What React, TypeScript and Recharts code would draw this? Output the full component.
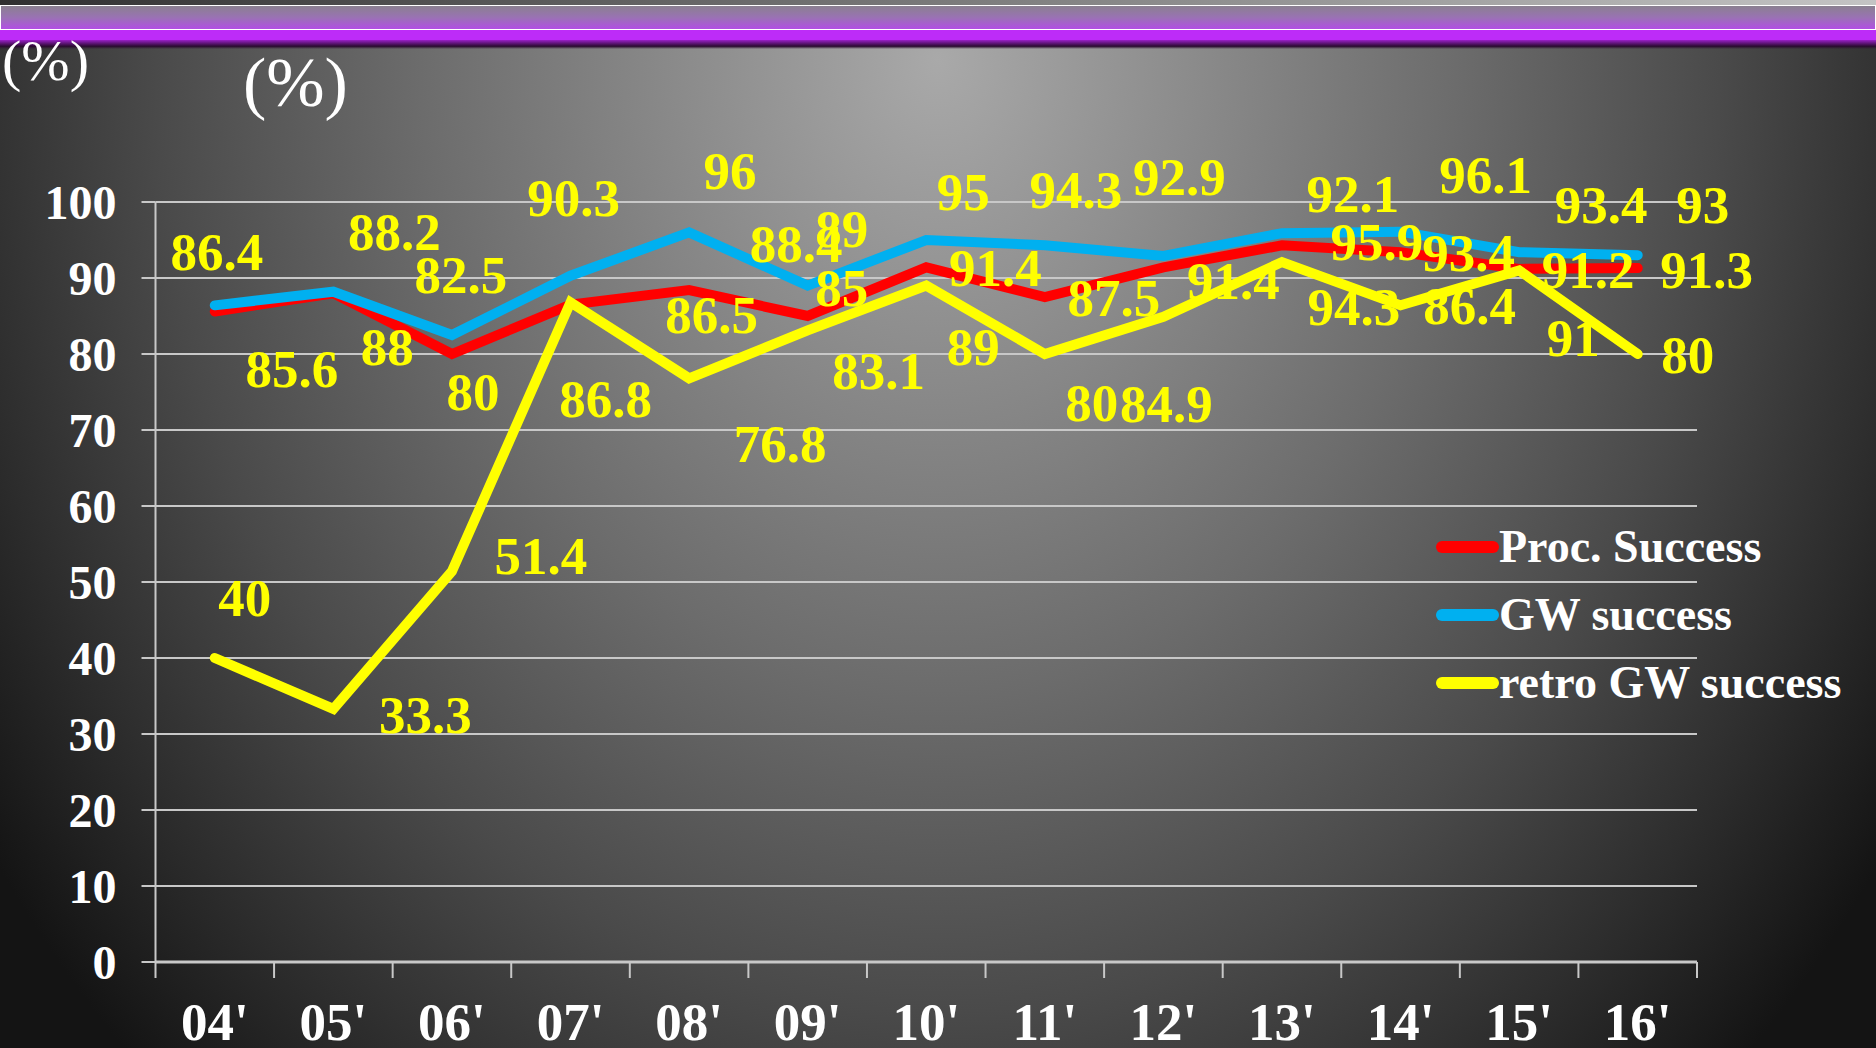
import { LineChart, Line, XAxis, YAxis, CartesianGrid, LabelList } from 'recharts'

const years = ["04'", "05'", "06'", "07'", "08'", "09'", "10'", "11'", "12'", "13'", "14'", "15'", "16'"]
const procSuccess = [85.6, 88, 80, 86.5, 88.4, 85, 91.4, 87.5, 91.4, 94.3, 93.4, 91.2, 91.3]
const gwSuccess = [86.4, 88.2, 82.5, 90.3, 96, 89, 95, 94.3, 92.9, 95.9, 96.1, 93.4, 93]
const retroGwSuccess = [40, 33.3, 51.4, 86.8, 76.8, 83.1, 89, 80, 84.9, 92.1, 86.4, 91, 80]
const yTicks = [0, 10, 20, 30, 40, 50, 60, 70, 80, 90, 100]

// the slide's data labels were dragged around by hand, these are the nudges (px)
const procLabelShift: [number, number][] = [
    [77, 58], [54, 54], [21, 38], [141, 10], [107, -46], [34, -28], [69, 1],
    [69, 1], [70, 14], [72, 62], [68, 1], [69, 1], [69, 2],
]
const gwLabelShift: [number, number][] = [
    [2, -53], [61, -60], [9, -60], [3, -78], [41, -61], [34, -57], [37, -48],
    [31, -55], [16, -79], [95, 9], [85, -57], [82, -47], [65, -50],
]
const retroLabelShift: [number, number][] = [
    [30, -60], [92, 6], [89, -15], [35, 97], [91, 66], [71, 41], [47, 61],
    [47, 49], [3, 87], [71, -68], [69, 1], [54, 68], [50, 1],
]

const series = [
    { key: 'proc', name: 'Proc. Success', color: '#FF0000', shift: procLabelShift },
    { key: 'gw', name: 'GW success', color: '#00B0F0', shift: gwLabelShift },
    { key: 'retro', name: 'retro GW success', color: '#FFFF00', shift: retroLabelShift },
]

const data = years.map((year, i) => ({
    i,
    year,
    proc: procSuccess[i],
    gw: gwSuccess[i],
    retro: retroGwSuccess[i],
}))

const W = 1876
const H = 1048
const MARGIN = { top: 202, right: 179, bottom: 26, left: 0 }
const Y_AXIS_W = 155.5
const X_AXIS_H = 60
const PLOT_LEFT = MARGIN.left + Y_AXIS_W
const PLOT_W = W - PLOT_LEFT - MARGIN.right
const AXIS_Y = H - MARGIN.bottom - X_AXIS_H
const BAND = PLOT_W / years.length

const SERIF = "'Liberation Serif', 'Times New Roman', serif"
const GRID = '#c8c8c8'

const makeLabel = (shift: [number, number][]) => (props: any) => {
    const x = props.x ?? props.viewBox?.x
    const y = props.y ?? props.viewBox?.y
    if (x == null || y == null) return null
    const idx = props.index ?? Math.round((x - PLOT_LEFT) / BAND - 0.5)
    const [dx, dy] = shift[idx] ?? [0, 0]
    return (
        <text
            x={x + dx}
            y={y + dy}
            fill="#FFFF00"
            fontSize={53}
            fontWeight="bold"
            fontFamily={SERIF}
            textAnchor="middle"
            dominantBaseline="central"
        >
            {props.value}
        </text>
    )
}

// category labels sit in the middle of each band, tick marks on the band edges
function YearTick(props: any) {
    const { x, payload, index } = props
    const left = x - BAND / 2
    const right = x + BAND / 2
    return (
        <g>
            <line x1={left} x2={left} y1={AXIS_Y} y2={AXIS_Y + 16} stroke={GRID} strokeWidth={2} />
            {index === years.length - 1 && (
                <line x1={right} x2={right} y1={AXIS_Y} y2={AXIS_Y + 16} stroke={GRID} strokeWidth={2} />
            )}
            <text x={x} y={AXIS_Y + 78} fill="#FFFFFF" fontSize={53} fontWeight="bold" fontFamily={SERIF} textAnchor="middle">
                {years[payload.value]}
            </text>
        </g>
    )
}

function LegendBox() {
    return (
        <div style={{ position: 'absolute', left: 1436, top: 513, fontFamily: SERIF }}>
            {series.map((s) => (
                <div key={s.key} style={{ display: 'flex', alignItems: 'center', height: 68 }}>
                    <div style={{ width: 63, height: 12, borderRadius: 6, background: s.color }} />
                    <span style={{ color: '#FFFFFF', fontSize: 46, fontWeight: 'bold', lineHeight: '68px', whiteSpace: 'nowrap' }}>
                        {s.name}
                    </span>
                </div>
            ))}
        </div>
    )
}

export default function App() {
    return (
        <div
            style={{
                position: 'absolute',
                left: 0,
                top: 0,
                width: W,
                height: H,
                overflow: 'hidden',
                background:
                    'radial-gradient(ellipse 1150px 1400px at 50% 60px, #a9a9a9 0%, #8e8e8e 20%, #6c6c6c 45%, #4a4a4a 68%, #2c2c2c 86%, #141414 100%)',
            }}
        >
            {/* slide header band */}
            <div style={{ position: 'absolute', left: 0, top: 0, width: W, height: 5, background: 'linear-gradient(90deg, #303030, #c4c4c4)' }} />
            <div
                style={{
                    position: 'absolute', left: 0, top: 5, width: W - 2, height: 23,
                    border: '1px solid #ffffff',
                    background: 'linear-gradient(180deg, #8a8090 0%, #9a72b4 50%, #b24fe4 100%)',
                }}
            />
            <div style={{ position: 'absolute', left: 0, top: 30, width: W, height: 10, background: '#bd2cf8' }} />
            <div style={{ position: 'absolute', left: 0, top: 40, width: W, height: 9, background: 'linear-gradient(180deg, #9a20c8 0%, #2a0a30 70%, rgba(40,20,40,0) 100%)' }} />

            <svg width={W} height={H} style={{ position: 'absolute', left: 0, top: 0 }}>
                <text x={2} y={80} fill="#FFFFFF" fontSize={58} fontFamily={SERIF}>(%)</text>
                <text x={243} y={106} fill="#FFFFFF" fontSize={70} fontFamily={SERIF}>(%)</text>
            </svg>

            <div style={{ position: 'absolute', left: 0, top: 0 }}>
                <LineChart width={W} height={H} data={data} margin={MARGIN}>
                    <CartesianGrid horizontal vertical={false} stroke={GRID} strokeWidth={2} />
                    <XAxis
                        dataKey="i"
                        type="number"
                        domain={[-0.5, years.length - 0.5]}
                        ticks={years.map((_, i) => i)}
                        interval={0}
                        height={X_AXIS_H}
                        axisLine={{ stroke: GRID, strokeWidth: 3 }}
                        tickLine={false}
                        tick={<YearTick />}
                    />
                    <YAxis
                        domain={[0, 100]}
                        ticks={yTicks}
                        interval={0}
                        width={Y_AXIS_W}
                        axisLine={{ stroke: GRID, strokeWidth: 2 }}
                        tickLine={{ stroke: GRID, strokeWidth: 2 }}
                        tickSize={14}
                        tickMargin={25}
                        tick={{ fill: '#FFFFFF', fontSize: 48, fontWeight: 'bold', fontFamily: SERIF }}
                    />
                    {series.map((s) => (
                        <Line
                            key={s.key}
                            dataKey={s.key}
                            name={s.name}
                            type="linear"
                            stroke={s.color}
                            strokeWidth={10}
                            strokeLinecap="round"
                            strokeLinejoin="miter"
                            dot={false}
                            activeDot={false}
                            isAnimationActive={false}
                        />
                    ))}
                    {/* labels drawn last so no line covers them */}
                    {series.map((s) => (
                        <Line
                            key={`${s.key}-labels`}
                            dataKey={s.key}
                            stroke="none"
                            dot={false}
                            activeDot={false}
                            legendType="none"
                            isAnimationActive={false}
                        >
                            <LabelList dataKey={s.key} content={makeLabel(s.shift)} />
                        </Line>
                    ))}
                </LineChart>
            </div>

            <LegendBox />
        </div>
    )
}
